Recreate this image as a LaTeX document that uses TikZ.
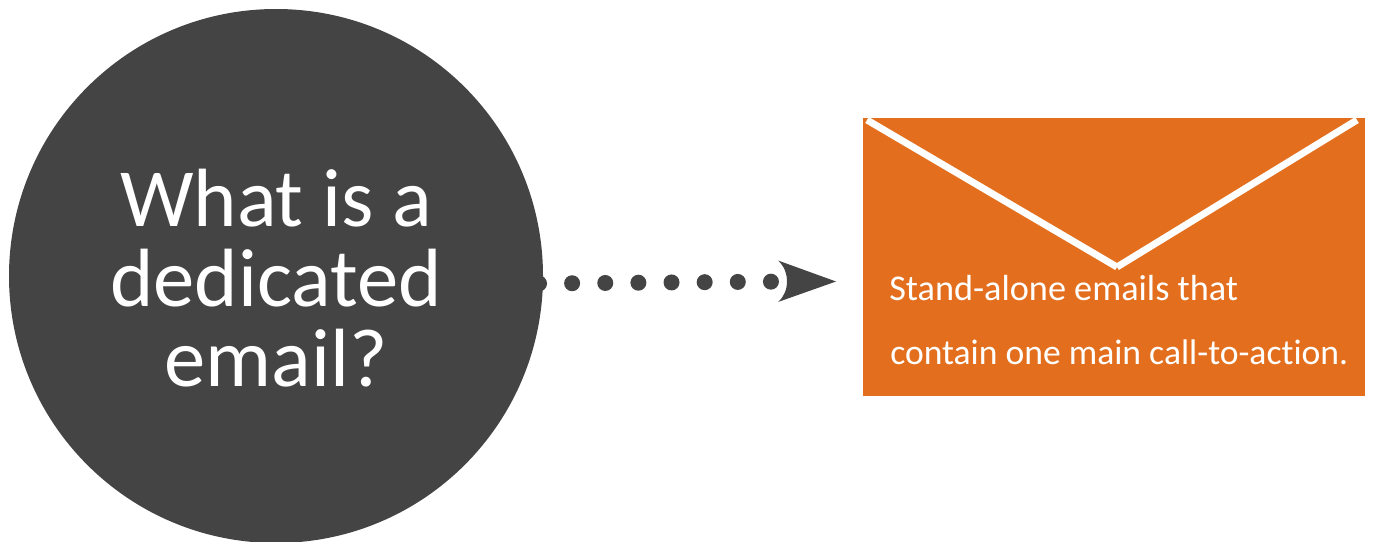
\documentclass[tikz,border=0pt]{standalone}
\usepackage{fontspec}
\setmainfont[Ligatures=CommonOff]{Carlito}
\definecolor{darkgrey}{HTML}{444444}
\definecolor{envorange}{HTML}{E36F1E}
\tikzset{
  x=0.75pt,y=-0.75pt,
  question/.style={circle,fill=darkgrey,inner sep=0pt,minimum size=400.5pt,text=white},
  envelope/.style={rectangle,fill=envorange,inner sep=0pt,minimum width=376.5pt,minimum height=208.5pt},
  flap/.style={draw=white,line width=5.2pt},
  dotline/.style={draw=darkgrey,line width=12pt,line cap=round,dash pattern=on 0pt off 24.85pt},
  headshape/.style={fill=darkgrey},
  qtext/.style={text=white,inner sep=0pt,font=\fontsize{62}{60}\selectfont,align=center},
  btext/.style={text=white,inner sep=0pt,anchor=base west}
}
\begin{document}
\begin{tikzpicture}
\useasboundingbox (0,0) rectangle (1373,542);
\begin{scope}
\clip (0,0) rectangle (1373,542);
\node[question] (q) at (276,276) {};
\end{scope}
\node[qtext] (qa) at (276,198) {What is a};
\node[qtext] (qb) at (276,278) {dedicated};
\node[qtext] (qc) at (276,358) {email?};
\node[envelope] (env) at (1114,257) {};
\coordinate (fl) at (867,120);
\coordinate (fm) at (1117,267);
\coordinate (fr) at (1357,120);
\draw[flap] (fl) -- (fm);
\draw[flap] (fm) -- (fr);
\node[btext,font=\fontsize{27.2}{30}\selectfont] (l1) at (889,300) {Stand-alone emails that};
\node[btext,font=\fontsize{26.7}{30}\selectfont] (l2) at (890,364) {contain one main call-to-action.};
\coordinate (ds) at (539,283.5);
\coordinate (de) at (790,281.5);
\draw[dotline] (ds) -- (de);
\fill[headshape] (778,260.5) -- (836,281.5) -- (778,302) .. controls (790,292) and (790,271) .. cycle;
\end{tikzpicture}
\end{document}
